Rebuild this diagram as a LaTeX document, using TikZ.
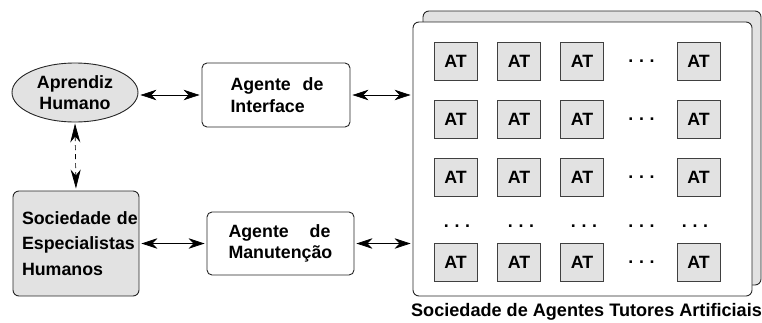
\documentclass[tikz,border=0pt]{standalone}
\usepackage{fontspec}
\setmainfont{Liberation Sans}
\usetikzlibrary{arrows.meta,shapes.geometric}

\definecolor{lightfill}{RGB}{226,226,226}
\newcommand{\atdots}{.\hspace{5.6pt}.\hspace{5.6pt}.}
\newcommand{\spreadline}[3]{\leavevmode\hbox to #1{#2\hfill #3}}

\tikzset{
  txt/.style={font=\bfseries\fontsize{17.8}{21.5}\selectfont},
  box/.style={txt, draw=black!85, line width=0.9pt, rounded corners=5pt,
              fill=white, inner sep=0pt},
  panel/.style={draw=black!85, line width=0.9pt, rounded corners=6pt,
                inner sep=0pt, minimum width=338pt, minimum height=274pt},
  atbox/.style={txt, draw=black!75, line width=0.8pt, fill=lightfill,
                minimum width=43pt, minimum height=38pt, inner sep=0pt},
  dotnode/.style={txt, inner sep=0pt},
  tipH/.tip={Stealth[length=16pt,width=10.5pt,inset=5pt]},
  tipV/.tip={Stealth[length=19pt,width=10pt,inset=6pt]},
  link/.style={line width=0.7pt, tipH-tipH, shorten >=2pt, shorten <=2pt},
  vlink/.style={line width=0.7pt, tipV-tipV, shorten >=2pt, shorten <=1pt,
                dash pattern=on 5pt off 4pt},
}

\begin{document}
\begin{tikzpicture}[x=1pt, y=-1pt]
  \useasboundingbox (0,0) rectangle (762,322);

  % human learner and human experts
  \node[txt, ellipse, draw=black!85, line width=0.9pt, fill=lightfill,
        minimum width=126pt, minimum height=59pt, inner sep=0pt, align=center]
        (ah) at (75,92.5) {Aprendiz\\Humano};
  \node[box, fill=lightfill, rounded corners=6pt, minimum width=126pt,
        minimum height=105pt, text width=108pt, align=left,
        font=\bfseries\fontsize{17.8}{25.5}\selectfont]
        (soc) at (76,243.5)
        {\mbox{Sociedade de}\\\mbox{Especialistas}\\\mbox{Humanos}};

  % agents
  \node[box, minimum width=148pt, minimum height=64pt, text width=91pt, align=left]
        (iface) at (276,95) {\spreadline{93pt}{Agente}{de}\\Interface};
  \node[box, minimum width=147pt, minimum height=63pt, text width=104pt, align=left]
        (mant) at (280.5,243.5) {\spreadline{102pt}{Agente}{de}\\\mbox{Manutenção}};

  % society of artificial tutor agents
  \node[panel, fill=lightfill] (back) at (592,148) {};
  \node[panel, fill=white, minimum width=339pt] (front) at (582.5,159) {};

  \foreach \r/\y in {1/61, 2/119, 3/177, 5/262} {
    \foreach \c/\x in {1/455.5, 2/519, 3/582, 5/698.5}
      \node[atbox] (at-\r-\c) at (\x,\y) {AT};
    \node[dotnode] (dt-\r-4) at (641.5,\y) {\atdots};
  }
  \foreach \c/\x in {1/457, 2/521, 3/584, 4/641.5, 5/695}
    \node[dotnode] (dt-4-\c) at (\x,226) {\atdots};

  \node[anchor=base, inner sep=0pt, font=\bfseries\fontsize{18.1}{22}\selectfont]
        (cap) at (586.5,316.5) {Sociedade de Agentes Tutores Artificiais};

  % connectors
  \draw[link] (iface.west -| ah.east) -- (iface.west);
  \draw[link] (iface.east) -- (iface.east -| front.west);
  \draw[link] (soc.east) -- (mant.west);
  \draw[link] (mant.east) -- (mant.east -| front.west);
  \draw[vlink] (ah.south) -- (soc.north);
\end{tikzpicture}
\end{document}
